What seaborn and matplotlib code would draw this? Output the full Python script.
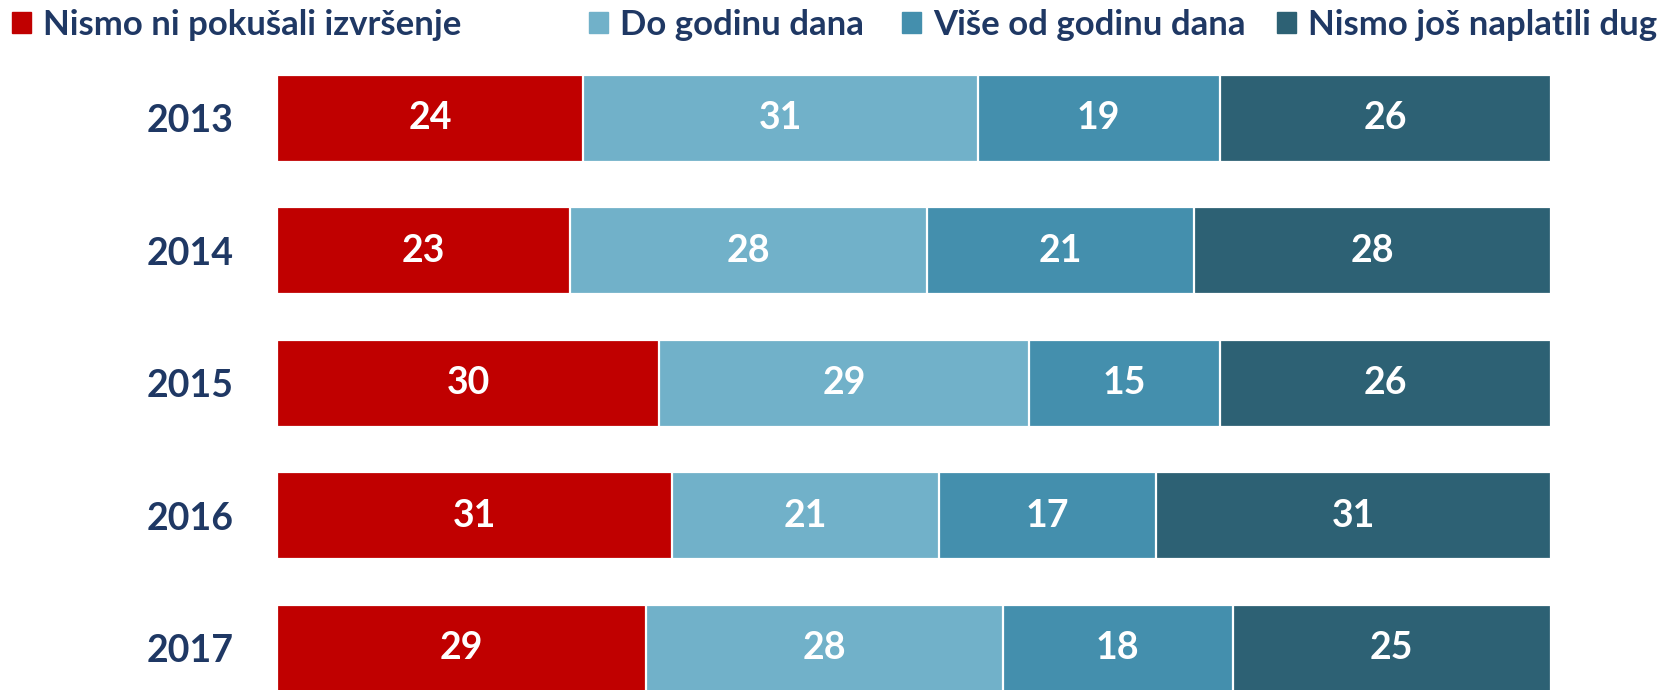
import matplotlib
matplotlib.use("Agg")
import matplotlib.pyplot as plt
import seaborn as sns
import numpy as np
import pandas as pd
from matplotlib.patches import Patch

years = ["2013", "2014", "2015", "2016", "2017"]
series_names = ["Nismo ni pokušali izvršenje", "Do godinu dana", "Više od godinu dana", "Nismo još naplatili dug"]
s1 = [24, 23, 30, 31, 29]
s2 = [31, 28, 29, 21, 28]
s3 = [19, 21, 15, 17, 18]
s4 = [26, 28, 26, 31, 25]
colors = ["#C00000", "#71B1C9", "#448FAD", "#2D6174"]
text_color = "#1F3864"

sns.set_theme(style="white")
plt.rcParams['font.family'] = ['Lato', 'DejaVu Sans']

fig = plt.figure(figsize=(16.64, 6.90), dpi=100)
ax = fig.add_axes([277/1664, 0.0, (1551-277)/1664, 1-52/690])

series = [s1, s2, s3, s4]
cum = np.cumsum(np.array(series), axis=0)
df = pd.DataFrame({"year": years})
for i in range(len(series) - 1, -1, -1):
    df["v"] = cum[i]
    sns.barplot(data=df, x="v", y="year", orient="h", color=colors[i], width=0.657,
                edgecolor="white", linewidth=1.6, saturation=1, ax=ax, order=years)

for i, s in enumerate(series):
    starts = cum[i] - np.array(s)
    for j, v in enumerate(s):
        ax.text(starts[j] + v / 2, j, str(v), ha="center", va="center", color="white",
                fontsize=27, fontweight="bold")

ax.set_xlim(0, 100)
ax.set_ylim(4.315, -0.5)
ax.set_xlabel("")
ax.set_ylabel("")
ax.set_xticks([])
ax.tick_params(axis="y", length=0, pad=31)
for lab in ax.get_yticklabels():
    lab.set_fontsize(27)
    lab.set_fontweight("bold")
    lab.set_color(text_color)
sns.despine(ax=ax, left=True, bottom=True, top=True, right=True)

legend_x = [12, 589, 902, 1277]
for i, name in enumerate(series_names):
    leg = fig.legend(handles=[Patch(color=colors[i])], labels=[name], loc="center left",
                     bbox_to_anchor=(legend_x[i] / 1664, 1 - 25 / 690), frameon=False,
                     handlelength=0.55, handleheight=0.55, handletextpad=0.35,
                     borderpad=0, borderaxespad=0, fontsize=25)
    for t in leg.get_texts():
        t.set_color(text_color)
        t.set_fontweight("bold")

fig.savefig("out.png", dpi=100)
